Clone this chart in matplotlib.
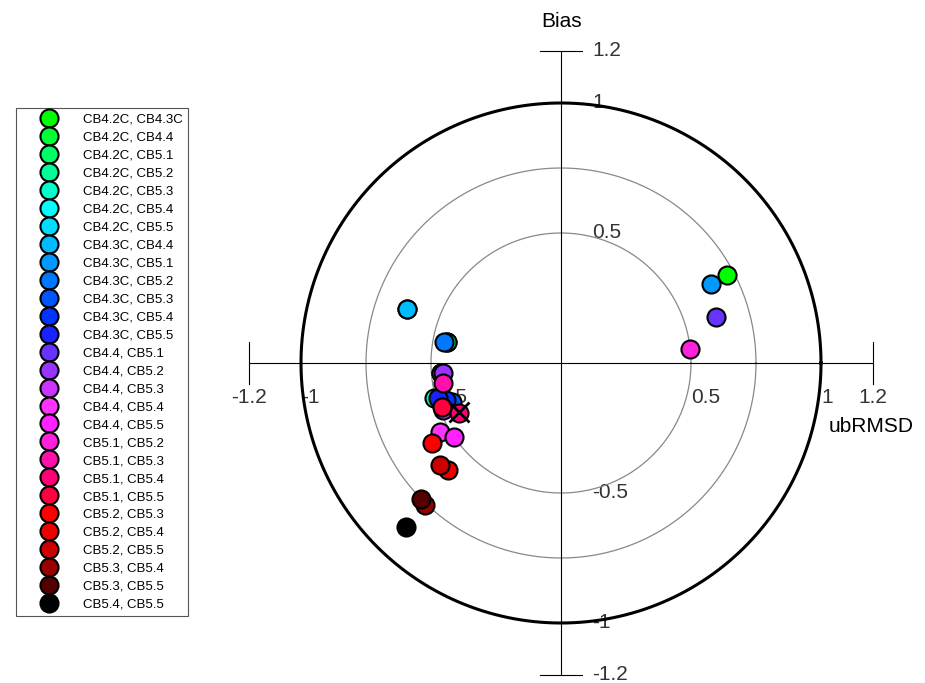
import numpy as np
import matplotlib
matplotlib.use("Agg")
import matplotlib.pyplot as plt

plt.rcParams['font.family'] = ['Liberation Sans', 'DejaVu Sans']

labels = ["CB4.2C, CB4.3C", "CB4.2C, CB4.4", "CB4.2C, CB5.1", "CB4.2C, CB5.2",
          "CB4.2C, CB5.3", "CB4.2C, CB5.4", "CB4.2C, CB5.5", "CB4.3C, CB4.4",
          "CB4.3C, CB5.1", "CB4.3C, CB5.2", "CB4.3C, CB5.3", "CB4.3C, CB5.4",
          "CB4.3C, CB5.5", "CB4.4, CB5.1", "CB4.4, CB5.2", "CB4.4, CB5.3",
          "CB4.4, CB5.4", "CB4.4, CB5.5", "CB5.1, CB5.2", "CB5.1, CB5.3",
          "CB5.1, CB5.4", "CB5.1, CB5.5", "CB5.2, CB5.3", "CB5.2, CB5.4",
          "CB5.2, CB5.5", "CB5.3, CB5.4", "CB5.3, CB5.5", "CB5.4, CB5.5"]

colors = ["#00ff00", "#00ff33", "#00ff66", "#00ff99", "#00ffcc", "#00ffff",
          "#00ddff", "#00bbff", "#0099ff", "#0077ff", "#0055ff", "#0033ff",
          "#1a22ff", "#6633ff", "#9933ff", "#cc33ff", "#ff33ff", "#ff22ff",
          "#ff22dd", "#ff11aa", "#ff0077", "#ff0040", "#ff0000", "#ee0000",
          "#cc0000", "#990000", "#550000", "#000000"]

ubrmsd = [0.638, -0.440, -0.438, -0.490, -0.462, -0.462, -0.592, -0.592,
          0.577, -0.450, -0.420, -0.443, -0.473, 0.596, -0.454, -0.454,
          -0.465, -0.410, 0.496, -0.454, -0.392, -0.458, -0.496, -0.435,
          -0.465, -0.523, -0.538, -0.596]
bias = [0.338, 0.081, 0.081, -0.135, -0.038, -0.038, 0.208, 0.208,
        0.304, 0.081, -0.150, -0.142, -0.135, 0.177, -0.038, -0.180,
        -0.265, -0.285, 0.054, -0.077, -0.192, -0.169, -0.308, -0.412,
        -0.392, -0.546, -0.523, -0.631]

ref_x = [-0.392]
ref_y = [-0.190]

circle_radii = [0.5, 0.75]
outer_radius = 1.0
axis_max = 1.2
x_ticks = [-1, -0.5, 0.5, 1]
x_tick_labels = ["-1", "-0.5", "0.5", "1"]
y_ticks = [1.2, 1, 0.5, -0.5, -1, -1.2]
y_tick_labels = ["1.2", "1", "0.5", "-0.5", "-1", "-1.2"]

fig = plt.figure(figsize=(9.25, 6.83), dpi=100)
ax = fig.add_axes([0, 0, 1, 1])
ax.set_xlim((0 - 561) / 260, (925 - 561) / 260)
ax.set_ylim((363 - 683) / 260, 363 / 260)
ax.set_aspect('equal')
ax.axis('off')

t = np.linspace(0, 2 * np.pi, 500)
for r in circle_radii:
    ax.plot(r * np.cos(t), r * np.sin(t), color="#888888", lw=0.9, zorder=1)
ax.plot(outer_radius * np.cos(t), outer_radius * np.sin(t), color="black", lw=2.2, zorder=1)

# axes
tk = 0.08
ax.plot([-axis_max, axis_max], [0, 0], color="black", lw=0.8, zorder=1)
ax.plot([0, 0], [-axis_max, axis_max], color="black", lw=0.8, zorder=1)
for v in [-axis_max, axis_max]:
    ax.plot([v, v], [-tk, tk], color="black", lw=0.8, zorder=1)
    ax.plot([-tk, tk], [v, v], color="black", lw=0.8, zorder=1)

fs = 15
tc = "#333333"
for v, s in zip(x_ticks, x_tick_labels):
    ax.text(v, -0.131, s, ha='left', va='center', fontsize=fs, color=tc, zorder=0.5)
for v, s in [(-axis_max, "-1.2"), (axis_max, "1.2")]:
    ax.text(v, -0.131, s, ha='center', va='center', fontsize=fs, color=tc, zorder=0.5)
for v, s in zip(y_ticks, y_tick_labels):
    ax.text(0.119, v, s, ha='left', va='center', fontsize=fs, color=tc, zorder=0.5)

ax.text(0.004, 1.312, "Bias", ha='center', va='center', fontsize=fs, color="black")
ax.text(1.192, -0.246, "ubRMSD", ha='center', va='center', fontsize=fs, color="black")

handles = []
for xv, yv, c, lab in zip(ubrmsd, bias, colors, labels):
    h, = ax.plot([xv], [yv], 'o', ms=13, mfc=c, mec='black', mew=1.5, label=lab,
                 linestyle='none', zorder=3)
    handles.append(h)

ax.plot(ref_x, ref_y, 'x', ms=14, mec='black', mew=2, zorder=4, linestyle='none')

leg = ax.legend(handles=handles, loc='upper left',
                bbox_to_anchor=(16 / 925, 1 - 108 / 683), bbox_transform=fig.transFigure,
                borderaxespad=0, fontsize=9.5, labelspacing=0.435, handlelength=4.2,
                handletextpad=0.48, borderpad=0.4, numpoints=1, fancybox=False,
                framealpha=1, edgecolor="#555555")
leg.get_frame().set_linewidth(0.8)

fig.savefig("out.png", dpi=100)
